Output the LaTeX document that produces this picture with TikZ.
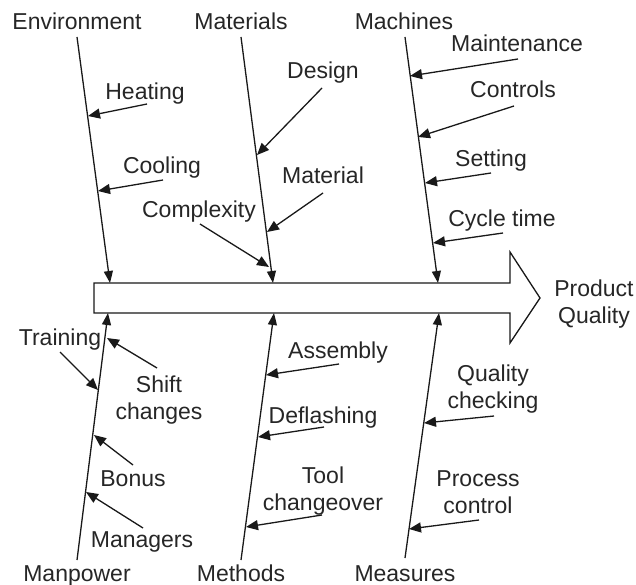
\documentclass[tikz,border=0pt]{standalone}
\usepackage{fontspec}
\setmainfont{Liberation Sans}
\usetikzlibrary{arrows.meta}

\tikzset{
  lbl/.style={anchor=base, inner sep=0pt, align=center, text=black!85,
    font=\fontsize{23}{27}\selectfont},
  bone/.style={draw=black!90, line width=1.3pt, -{Triangle[length=12pt,width=9pt]}},
  cause/.style={draw=black!90, line width=1.3pt, -{Triangle[length=12pt,width=10pt]}}
}

\begin{document}
\begin{tikzpicture}[x=1pt, y=-1pt]
  \useasboundingbox (0,0) rectangle (636,585);

  % spine arrow
  \draw[black!90, line width=1.3pt, fill=white] (94,283) -- (510,283) -- (510,252) -- (540,298)
    -- (510,343) -- (510,313) -- (94,313) -- cycle;
  \node[lbl] (effect) at (594,323) {Product\\Quality};

  % upper bones
  \node[lbl] (env) at (77,30) {Environment};
  \node[lbl] (mat) at (241,30) {Materials};
  \node[lbl] (mac) at (404,30) {Machines};
  \coordinate (envtop) at (77,37);   \coordinate (envtip) at (110,283);
  \coordinate (mattop) at (241,37);  \coordinate (mattip) at (273,283);
  \coordinate (mactop) at (405,37);  \coordinate (mactip) at (438,283);
  \draw[bone] (envtop) -- (envtip);
  \draw[bone] (mattop) -- (mattip);
  \draw[bone] (mactop) -- (mactip);

  % lower bones
  \node[lbl] (man) at (77,581) {Manpower};
  \node[lbl] (met) at (241,581) {Methods};
  \node[lbl] (mea) at (405,581) {Measures};
  \coordinate (manbot) at (77,560);  \coordinate (mantip) at (108,313);
  \coordinate (metbot) at (241,560); \coordinate (mettip) at (274,313);
  \coordinate (meabot) at (405,558); \coordinate (meatip) at (439,313);
  \draw[bone] (manbot) -- (mantip);
  \draw[bone] (metbot) -- (mettip);
  \draw[bone] (meabot) -- (meatip);

  % environment causes
  \node[lbl] (heat) at (145,100) {Heating};
  \node[lbl] (cool) at (162,174) {Cooling};
  \coordinate (heatA) at (147,104); \coordinate (heatB) at (88,116);
  \coordinate (coolA) at (163,180); \coordinate (coolB) at (98,191);
  \draw[cause] (heatA) -- (heatB);
  \draw[cause] (coolA) -- (coolB);

  % materials causes
  \node[lbl] (des) at (323,79) {Design};
  \node[lbl] (mtl) at (323,184) {Material};
  \node[lbl] (cpx) at (199,218) {Complexity};
  \coordinate (desA) at (322,88);  \coordinate (desB) at (257,155);
  \coordinate (mtlA) at (323,193); \coordinate (mtlB) at (267,232);
  \coordinate (cpxA) at (200,224); \coordinate (cpxB) at (269,267);
  \draw[cause] (desA) -- (desB);
  \draw[cause] (mtlA) -- (mtlB);
  \draw[cause] (cpxA) -- (cpxB);

  % machines causes
  \node[lbl] (mnt) at (517,52) {Maintenance};
  \node[lbl] (ctl) at (513,98) {Controls};
  \node[lbl] (set) at (491,167) {Setting};
  \node[lbl] (cyc) at (502,226) {Cycle time};
  \coordinate (mntA) at (518,59);  \coordinate (mntB) at (410,76);
  \coordinate (ctlA) at (514,106); \coordinate (ctlB) at (418,137);
  \coordinate (setA) at (491,173); \coordinate (setB) at (425,183);
  \coordinate (cycA) at (503,233); \coordinate (cycB) at (433,243);
  \draw[cause] (mntA) -- (mntB);
  \draw[cause] (ctlA) -- (ctlB);
  \draw[cause] (setA) -- (setB);
  \draw[cause] (cycA) -- (cycB);

  % manpower causes
  \node[lbl] (trn) at (60,345) {Training};
  \node[lbl] (shf) at (159,419) {Shift\\changes};
  \node[lbl] (bon) at (133,486) {Bonus};
  \node[lbl] (mgr) at (142,547) {Managers};
  \coordinate (trnA) at (60,352);  \coordinate (trnB) at (98,390);
  \coordinate (shfA) at (157,368); \coordinate (shfB) at (107,338);
  \coordinate (bonA) at (133,465); \coordinate (bonB) at (94,435);
  \coordinate (mgrA) at (143,528); \coordinate (mgrB) at (86,492);
  \draw[cause] (trnA) -- (trnB);
  \draw[cause] (shfA) -- (shfB);
  \draw[cause] (bonA) -- (bonB);
  \draw[cause] (mgrA) -- (mgrB);

  % methods causes
  \node[lbl] (asm) at (338,358) {Assembly};
  \node[lbl] (dfl) at (323,423) {Deflashing};
  \node[lbl] (tco) at (323,510) {Tool\\changeover};
  \coordinate (asmA) at (339,364); \coordinate (asmB) at (266,375);
  \coordinate (dflA) at (324,427); \coordinate (dflB) at (258,437);
  \coordinate (tcoA) at (322,515); \coordinate (tcoB) at (246,527);
  \draw[cause] (asmA) -- (asmB);
  \draw[cause] (dflA) -- (dflB);
  \draw[cause] (tcoA) -- (tcoB);

  % measures causes
  \node[lbl] (qck) at (493,408) {Quality\\checking};
  \node[lbl] (pct) at (478,513) {Process\\control};
  \coordinate (qckA) at (494,416); \coordinate (qckB) at (424,423);
  \coordinate (pctA) at (479,520); \coordinate (pctB) at (409,529);
  \draw[cause] (qckA) -- (qckB);
  \draw[cause] (pctA) -- (pctB);
\end{tikzpicture}
\end{document}
